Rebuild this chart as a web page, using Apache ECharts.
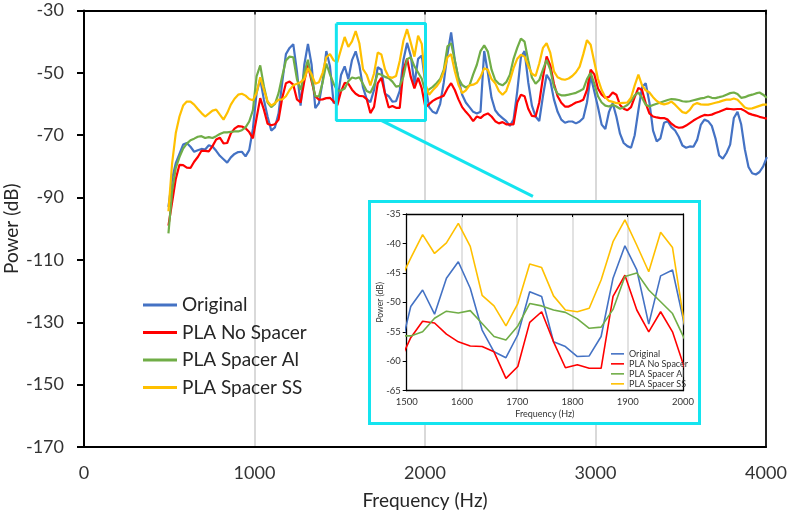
<!DOCTYPE html>
<html><head><meta charset="utf-8">
<script src="https://cdn.jsdelivr.net/npm/echarts@6/dist/echarts.min.js"></script>
<style>html,body{margin:0;padding:0;background:#fff}#c{width:790px;height:519px}</style>
</head><body><div id="c"></div>
<script>
// Frequency bins (Hz)
const freqHz = [
495.3,516.8,538.3,559.9,581.4,602.9,624.5,646.0,667.5,689.1,
710.6,732.1,753.7,775.2,796.7,818.3,839.8,861.3,882.9,904.4,
925.9,947.5,969.0,990.5,1012.1,1033.6,1055.1,1076.7,1098.2,1119.7,
1141.2,1162.8,1184.3,1205.8,1227.4,1248.9,1270.4,1292.0,1313.5,1335.0,
1356.6,1378.1,1399.6,1421.2,1442.7,1464.2,1485.8,1507.3,1528.8,1550.4,
1571.9,1593.4,1615.0,1636.5,1658.0,1679.6,1701.1,1722.6,1744.2,1765.7,
1787.2,1808.8,1830.3,1851.8,1873.4,1894.9,1916.4,1938.0,1959.5,1981.0,
2002.6,2024.1,2045.7,2067.2,2088.7,2110.3,2131.8,2153.3,2174.9,2196.4,
2218.0,2239.5,2261.0,2282.6,2304.1,2325.6,2347.2,2368.7,2390.2,2411.8,
2433.3,2454.8,2476.4,2497.9,2519.4,2540.9,2562.5,2584.0,2605.5,2627.1,
2648.6,2670.1,2691.7,2713.2,2734.7,2756.3,2777.8,2799.3,2820.9,2842.4,
2863.9,2885.4,2907.0,2928.5,2950.0,2971.6,2993.1,3014.6,3036.2,3057.7,
3079.2,3100.8,3122.3,3143.8,3165.4,3186.9,3208.4,3229.9,3251.5,3273.0,
3294.5,3316.1,3337.6,3359.1,3380.7,3402.2,3423.7,3445.3,3466.8,3488.3,
3509.9,3531.4,3552.9,3574.4,3596.0,3617.5,3639.0,3660.6,3682.1,3703.6,
3725.2,3746.7,3768.2,3789.8,3811.3,3832.8,3854.4,3875.9,3897.4,3918.9,
3940.5,3962.0,3983.5,4005.0];

// Power (dB) per series
const original = [
-93,-84,-79,-76,-73,-72.5,-73.7,-75.3,-74.8,-74.4,
-74.6,-73.2,-73.6,-75,-76.6,-77.7,-78.8,-77.1,-76,-75.4,
-75.3,-76.8,-74.8,-68,-56.5,-52,-58.6,-64,-68.5,-67.5,
-63,-53,-44,-42,-40.8,-49.5,-60.5,-47.4,-40.7,-47.4,
-61.3,-59.7,-52.7,-43,-47.9,-59.7,-59.2,-50.7,-47.9,-52,
-45.9,-43.1,-47.6,-54.7,-58.4,-59.4,-55.5,-48.2,-49,-56.7,
-57.5,-59.2,-59.1,-55.8,-45.9,-40.4,-44.5,-53.7,-45.5,-44.5,
-53.8,-61,-62.5,-63,-60,-53,-44,-37,-46,-52,
-57,-59.5,-61,-62.5,-63,-62.5,-43,-50,-58,-62,
-63.5,-64.5,-65.5,-67,-65,-56,-45,-43,-53,-60.5,
-64,-65.5,-57.5,-50.6,-52.5,-58.5,-62.5,-65,-66,-65.6,
-65.6,-66.2,-65.6,-64.5,-59.5,-51,-56,-61,-66.6,-68,
-62.5,-59.7,-64,-69.5,-72.5,-73.5,-74,-70,-62,-54.6,
-53.3,-59.5,-68.5,-72,-71,-66,-65.5,-67.4,-68.5,-70.5,
-73.3,-74,-73.6,-73.7,-71.5,-66.7,-65,-65.5,-67,-71,
-76.5,-77.5,-75.7,-73,-64.5,-62.5,-66.5,-74.5,-80.2,-82.2,
-82.6,-81.8,-80,-77];

const plaNoSpacer = [
-99,-91.5,-84,-79.5,-79.6,-80.4,-80.5,-78.5,-77,-75,
-75,-75.2,-73.5,-71.4,-70.8,-72.6,-72.5,-69.4,-67.9,-67.1,
-67.2,-67.8,-69,-71,-64.5,-58.1,-61.8,-66.3,-66.8,-66.5,
-65,-58,-53.3,-52.8,-53.8,-58.5,-59.5,-52.7,-47.5,-52.7,
-57.5,-58.6,-58.5,-58.1,-58,-59.2,-60.4,-56,-53.2,-53.5,
-55.4,-56.7,-57.4,-57.5,-58.4,-62.9,-60.9,-53.4,-51.6,-56.7,
-61.1,-60.6,-61.2,-61.2,-49,-45.4,-51.3,-55,-51.6,-55,
-61.1,-60,-59,-58.3,-57.8,-57.3,-55,-53.3,-55.5,-58.5,
-61,-62.5,-63.8,-65.5,-64,-64.5,-63.5,-63,-64,-65.5,
-66.2,-65.8,-66.5,-66.5,-66.5,-59.5,-57,-57.5,-61.5,-63.8,
-64,-59.5,-51.5,-44.7,-47.5,-53.5,-57.5,-59.6,-60.8,-60.8,
-60.2,-59.5,-59.2,-58.6,-55.5,-49,-50.5,-55,-57,-58,
-57.7,-56.3,-57,-60.3,-61.5,-62,-61,-57.8,-54.8,-55.5,
-59.8,-63,-64,-64.3,-64.5,-64.5,-65,-66.3,-67.2,-67.6,
-67.5,-66.9,-66.1,-65.3,-64.6,-64,-63.5,-63.6,-63.4,-62.9,
-62.5,-62,-61.5,-61.6,-61.7,-61.6,-61.6,-62.2,-63,-63.4,
-63.7,-64.1,-64.4,-64.7];

const plaSpacerAl = [
-101.5,-88,-80.5,-77,-74.3,-72.7,-71.6,-71.1,-70.5,-70.3,
-70.9,-70.6,-70.9,-70.3,-69.6,-69.1,-69.1,-68.9,-68.8,-68.8,
-68.4,-67.5,-65.6,-62,-51.1,-47.6,-54.3,-59.5,-61,-60,
-56.5,-51,-46,-44.8,-45,-52,-55.5,-50,-45.8,-52,
-57.5,-57.5,-53,-47,-50.5,-53.5,-55.7,-55.7,-55,-52.7,
-51.5,-51.8,-51.4,-53.6,-55.8,-56.4,-54,-50.2,-50.6,-51.3,
-51.7,-52.8,-54.4,-54.2,-51.2,-45.6,-45,-47.9,-49.9,-51.9,
-56.2,-55.3,-54.5,-53.3,-52,-49,-41.5,-40.5,-46,-51.7,
-53.9,-54.7,-54,-50.5,-47.4,-43,-41.2,-43.2,-49,-52.3,
-53.5,-54,-53,-50.6,-45.5,-42,-39,-40,-46,-51.5,
-53.5,-52.3,-49,-45.8,-49,-54.5,-56.7,-57.2,-57.2,-57,
-56.7,-56.4,-55.8,-55.2,-52,-50,-53.5,-57.5,-59.5,-60.5,
-60.8,-60.2,-60.8,-61.5,-61,-60.3,-59,-57.2,-56.3,-58,
-60.2,-60.8,-60.3,-59.9,-59.5,-59.1,-58.7,-58.4,-58.5,-58.7,
-59.1,-59.2,-59.1,-58.8,-58.5,-58.2,-58,-57.6,-58,-58.1,
-57.8,-57.5,-57,-56.5,-56.3,-56.8,-58,-57.8,-57.3,-57,
-56.6,-56.3,-57,-58];

const plaSpacerSS = [
-94.4,-79,-69.3,-64,-60.5,-59.2,-59.2,-60.2,-61.6,-62.9,
-64,-63.1,-62.1,-61.8,-63.4,-65,-62.9,-60.2,-58.3,-57,
-56.7,-57.3,-58.4,-58.8,-56.5,-51.4,-55.4,-59.2,-60.5,-59.7,
-58.6,-58.5,-57.5,-55.5,-54,-53.5,-53,-52,-48.5,-50.5,
-53.5,-53,-50,-45,-44,-46,-46.6,-42.5,-38.5,-41.7,
-39.9,-36.6,-40.5,-48.8,-50.6,-54,-50.2,-43.5,-44.1,-48.9,
-51.3,-51.6,-51,-46.2,-39.7,-36,-40.3,-44.8,-38.1,-40.7,
-53.7,-57,-55.6,-54.4,-52.7,-49.6,-45,-44,-49.5,-53.8,
-56.5,-55.6,-54,-53.8,-53.2,-51.3,-48.5,-49,-52,-53.3,
-55.8,-57,-55.8,-52.5,-48.5,-45.5,-44.2,-44.8,-47.8,-50.3,
-51,-47,-42,-40.5,-43.5,-49.5,-51.4,-52,-52.2,-51.8,
-51,-49.8,-48,-44,-39.5,-41,-46.5,-52,-55.5,-57.8,
-59,-59.3,-59.7,-59.7,-59.6,-59.5,-58,-54,-50.6,-54,
-55.6,-56.3,-57.8,-59,-59.8,-60.1,-59.8,-59.2,-60.2,-61.4,
-62.6,-62.9,-61.9,-60.2,-59.7,-60.1,-60.2,-60.2,-59.9,-59.6,
-59.3,-58.9,-58.6,-58.6,-58.2,-58.6,-59.8,-61.1,-61.5,-61.4,
-61,-60.6,-60.2,-60.2];

const seriesNames = ['Original', 'PLA No Spacer', 'PLA Spacer Al', 'PLA Spacer SS'];
const seriesValues = [original, plaNoSpacer, plaSpacerAl, plaSpacerSS];
const seriesColors = ['#4472c4', '#ff0000', '#70ad47', '#ffc000'];

const mainXRange = [0, 4000];
const mainYRange = [-170, -30];
const mainYTicks = [-170, -150, -130, -110, -90, -70, -50, -30];
const insetXRange = [1500, 2000];
const insetYRange = [-65, -35];
// highlight box drawn on the main chart around the zoomed region
const zoomBoxX = [1480, 2003];
const zoomBoxY = [-65.3, -34.2];
const arrowFrom = [1746, -65.3];
const arrowTo = [2633, -89.6];

const CYAN = '#14e4ef';
const FONT = 'Lato, "Liberation Sans", sans-serif';
const plain = v => String(v);

function pairs(vals) { return freqHz.map((f, i) => [f, vals[i]]); }

const mainSeries = seriesNames.map((n, i) => ({
  name: n, type: 'line', xAxisIndex: 0, yAxisIndex: 0,
  data: pairs(seriesValues[i]), symbol: 'none', z: 2,
  color: seriesColors[i],
  lineStyle: { color: seriesColors[i], width: 2.2 }
}));
const insetSeries = seriesNames.map((n, i) => ({
  name: n, type: 'line', xAxisIndex: 2, yAxisIndex: 2,
  data: pairs(seriesValues[i]), symbol: 'none', z: 7, clip: true,
  color: seriesColors[i],
  lineStyle: { color: seriesColors[i], width: 1.6 }
}));
const boxSeries = {
  name: 'zoomBox', type: 'line', xAxisIndex: 0, yAxisIndex: 0, z: 3,
  symbol: 'none', silent: true,
  data: [[zoomBoxX[0], zoomBoxY[1]], [zoomBoxX[1], zoomBoxY[1]],
         [zoomBoxX[1], zoomBoxY[0]], [zoomBoxX[0], zoomBoxY[0]],
         [zoomBoxX[0], zoomBoxY[1]]],
  lineStyle: { color: CYAN, width: 3 },
  markLine: {
    silent: true, symbol: ['none', 'arrow'], symbolSize: [0, 13],
    label: { show: false },
    lineStyle: { color: CYAN, width: 3, type: 'solid' },
    data: [[{ coord: arrowFrom }, { coord: arrowTo }]]
  }
};

const chart = echarts.init(document.getElementById('c'), null, { renderer: 'canvas' });
chart.setOption({
  animation: false,
  backgroundColor: '#fff',
  textStyle: { fontFamily: FONT },
  grid: [
    { left: 84, top: 10.5, width: 682, height: 436.5, outerBoundsMode: 'none', containLabel: false },
    { left: 406.7, top: 214, width: 276.3, height: 176.7, outerBoundsMode: 'none', containLabel: false }
  ],
  xAxis: [
    { gridIndex: 0, type: 'value', min: mainXRange[0], max: mainXRange[1], interval: 1000,
      axisLine: { show: true, onZero: false, lineStyle: { color: '#000', width: 2 } },
      axisTick: { show: false },
      axisLabel: { fontSize: 18, color: '#333', margin: 17, fontFamily: FONT, formatter: plain },
      splitLine: { show: true, showMinLine: false, showMaxLine: false, lineStyle: { color: '#d9d9d9', width: 2 } },
      name: 'Frequency (Hz)', nameLocation: 'middle', nameGap: 44, nameMoveOverlap: false,
      nameTextStyle: { fontSize: 19, color: '#262626', fontFamily: FONT } },
    { gridIndex: 0, type: 'value', position: 'top', min: mainXRange[0], max: mainXRange[1], interval: 1000,
      axisLine: { show: true, onZero: false, lineStyle: { color: '#000', width: 2 } },
      axisTick: { show: true, inside: true, length: 4, lineStyle: { color: '#000', width: 1.5 } },
      axisLabel: { show: false }, splitLine: { show: false } },
    { gridIndex: 1, type: 'value', min: insetXRange[0], max: insetXRange[1], interval: 100, z: 6,
      axisLine: { show: true, onZero: false, lineStyle: { color: '#000', width: 1.3 } },
      axisTick: { show: false },
      axisLabel: { fontSize: 9.5, color: '#333', margin: 6, fontFamily: FONT, formatter: plain },
      splitLine: { show: true, showMinLine: false, showMaxLine: false, lineStyle: { color: '#d9d9d9', width: 1.5 } },
      name: 'Frequency (Hz)', nameLocation: 'middle', nameGap: 19, nameMoveOverlap: false,
      nameTextStyle: { fontSize: 9, color: '#333', fontFamily: FONT } },
    { gridIndex: 1, type: 'value', position: 'top', min: insetXRange[0], max: insetXRange[1], interval: 100, z: 6,
      axisLine: { show: true, onZero: false, lineStyle: { color: '#000', width: 1.3 } },
      axisTick: { show: true, inside: true, length: 3, lineStyle: { color: '#000', width: 1 } },
      axisLabel: { show: false }, splitLine: { show: false } }
  ],
  yAxis: [
    { gridIndex: 0, type: 'value', min: mainYRange[0], max: mainYRange[1],
      axisLine: { show: true, onZero: false, lineStyle: { color: '#000', width: 2 } },
      axisTick: { show: true, length: 7, customValues: mainYTicks, lineStyle: { color: '#000', width: 2 } },
      axisLabel: { fontSize: 18, color: '#333', margin: 20, customValues: mainYTicks, fontFamily: FONT, formatter: plain },
      splitLine: { show: false },
      name: 'Power (dB)', nameLocation: 'middle', nameGap: 63, nameRotate: 90, nameMoveOverlap: false,
      nameTextStyle: { fontSize: 19, color: '#262626', fontFamily: FONT } },
    { gridIndex: 0, type: 'value', position: 'right', min: mainYRange[0], max: mainYRange[1],
      axisLine: { show: true, onZero: false, lineStyle: { color: '#222', width: 2 } },
      axisTick: { show: false }, axisLabel: { show: false }, splitLine: { show: false } },
    { gridIndex: 1, type: 'value', min: insetYRange[0], max: insetYRange[1], interval: 5, z: 6,
      axisLine: { show: true, onZero: false, lineStyle: { color: '#000', width: 1.3 } },
      axisTick: { show: true, length: 4, lineStyle: { color: '#000', width: 1 } },
      axisLabel: { fontSize: 9.5, color: '#333', margin: 6, fontFamily: FONT, formatter: plain },
      splitLine: { show: false },
      name: 'Power (dB)', nameLocation: 'middle', nameGap: 22, nameRotate: 90, nameMoveOverlap: false,
      nameTextStyle: { fontSize: 8.5, color: '#333', fontFamily: FONT } },
    { gridIndex: 1, type: 'value', position: 'right', min: insetYRange[0], max: insetYRange[1], z: 6,
      axisLine: { show: true, onZero: false, lineStyle: { color: '#000', width: 1.3 } },
      axisTick: { show: false }, axisLabel: { show: false }, splitLine: { show: false } }
  ],
  legend: [
    { data: seriesNames, orient: 'vertical', left: 138, top: 290, icon: 'rect',
      itemWidth: 34, itemHeight: 3, itemGap: 7.5, selectedMode: false,
      textStyle: { fontSize: 19, color: '#262626', lineHeight: 20, fontFamily: FONT } },
    { data: seriesNames, orient: 'vertical', left: 606, top: 344, icon: 'rect', z: 8,
      itemWidth: 13, itemHeight: 1.6, itemGap: 0.3, selectedMode: false,
      textStyle: { fontSize: 9, color: '#333', lineHeight: 9.7, fontFamily: FONT } }
  ],
  graphic: [
    { type: 'rect', z: 5, silent: true,
      shape: { x: 369.5, y: 201.5, width: 330, height: 222 },
      style: { fill: '#fff', stroke: CYAN, lineWidth: 3 } }
  ],
  series: [...mainSeries, boxSeries, ...insetSeries]
});
</script></body></html>
